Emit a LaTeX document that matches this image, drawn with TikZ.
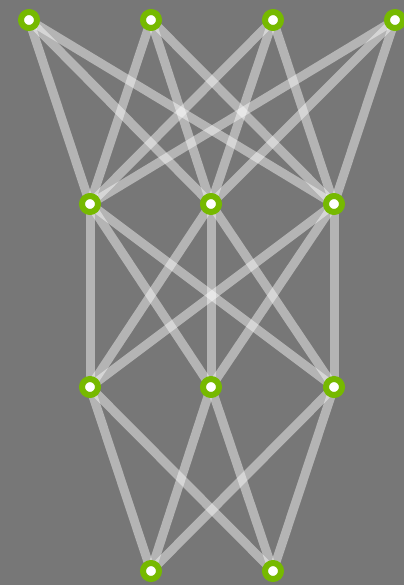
\documentclass[tikz,border=0pt]{standalone}
\usepackage{tikz}
\definecolor{nvgreen}{HTML}{76B900}
\definecolor{bggray}{HTML}{777777}
\pgfdeclarelayer{bg}
\pgfdeclarelayer{edges}
\pgfsetlayers{bg,edges,main}
\begin{document}
\begin{tikzpicture}[x=0.5mm, y=-0.5mm,
  every node/.style={circle,draw=nvgreen,fill=white,line width=3mm,minimum size=8mm,inner sep=0pt},
  edge/.style={white,line width=4.5mm,opacity=0.45}]
\begin{pgfonlayer}{bg}
\fill[bggray] (0,0) rectangle (404,585);
\end{pgfonlayer}
\useasboundingbox (0,0) rectangle (404,585);

\node (a1) at (29,20) {};
\node (a2) at (151,20) {};
\node (a3) at (273,20) {};
\node (a4) at (395,20) {};
\node (b1) at (90,204) {};
\node (b2) at (211,204) {};
\node (b3) at (334,204) {};
\node (c1) at (90,387) {};
\node (c2) at (211,387) {};
\node (c3) at (334,387) {};
\node (d1) at (151,571) {};
\node (d2) at (273,571) {};

\begin{pgfonlayer}{edges}
\draw[edge] (a1.center) -- (b1.center);
\draw[edge] (a1.center) -- (b2.center);
\draw[edge] (a1.center) -- (b3.center);
\draw[edge] (a2.center) -- (b1.center);
\draw[edge] (a2.center) -- (b2.center);
\draw[edge] (a2.center) -- (b3.center);
\draw[edge] (a3.center) -- (b1.center);
\draw[edge] (a3.center) -- (b2.center);
\draw[edge] (a3.center) -- (b3.center);
\draw[edge] (a4.center) -- (b1.center);
\draw[edge] (a4.center) -- (b2.center);
\draw[edge] (a4.center) -- (b3.center);

\draw[edge] (b1.center) -- (c1.center);
\draw[edge] (b1.center) -- (c2.center);
\draw[edge] (b1.center) -- (c3.center);
\draw[edge] (b2.center) -- (c1.center);
\draw[edge] (b2.center) -- (c2.center);
\draw[edge] (b2.center) -- (c3.center);
\draw[edge] (b3.center) -- (c1.center);
\draw[edge] (b3.center) -- (c2.center);
\draw[edge] (b3.center) -- (c3.center);

\draw[edge] (c1.center) -- (d1.center);
\draw[edge] (c1.center) -- (d2.center);
\draw[edge] (c2.center) -- (d1.center);
\draw[edge] (c2.center) -- (d2.center);
\draw[edge] (c3.center) -- (d1.center);
\draw[edge] (c3.center) -- (d2.center);
\end{pgfonlayer}

\end{tikzpicture}
\end{document}
